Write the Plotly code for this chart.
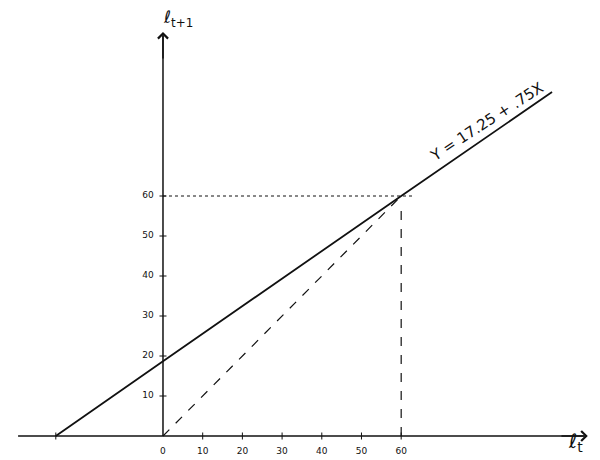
import plotly.graph_objects as go

# Data (axis units)
tick_vals = [0, 10, 20, 30, 40, 50, 60]
tick_labels = ["0", "10", "20", "30", "40", "50", "60"]
solid_x = [-27, 0, 60, 98]
solid_y = [0, 18.7, 60, 86]
diag_x = [0, 60]
diag_y = [0, 60]
eq_label = "Y = 17.25 + .75X"

fig = go.Figure()

ink = "#111111"
# main axes
fig.add_trace(go.Scatter(x=[-36.5, 106], y=[0, 0], mode="lines",
                         line=dict(color=ink, width=1.5), hoverinfo="skip"))
fig.add_trace(go.Scatter(x=[0, 0], y=[0, 100], mode="lines",
                         line=dict(color=ink, width=1.5), hoverinfo="skip"))
# solid line
fig.add_trace(go.Scatter(x=solid_x, y=solid_y, mode="lines",
                         line=dict(color=ink, width=1.8), hoverinfo="skip"))
# 45-degree dashed line
fig.add_trace(go.Scatter(x=diag_x, y=diag_y, mode="lines",
                         line=dict(color=ink, width=1.2, dash="dash"), hoverinfo="skip"))
# dotted guides at 60
fig.add_trace(go.Scatter(x=[0, 63], y=[60, 60], mode="lines",
                         line=dict(color=ink, width=1, dash="dot"), hoverinfo="skip"))
fig.add_trace(go.Scatter(x=[60, 60], y=[0, 57], mode="lines",
                         line=dict(color=ink, width=1.2, dash="dash"), hoverinfo="skip"))
# tick marks
fig.add_trace(go.Scatter(x=tick_vals[1:] + [-27], y=[0] * 7, mode="markers",
                         marker=dict(symbol="line-ns", size=5, line=dict(color=ink, width=1)),
                         hoverinfo="skip"))
fig.add_trace(go.Scatter(x=[0] * 6, y=tick_vals[1:], mode="markers",
                         marker=dict(symbol="line-ew", size=5, line=dict(color=ink, width=1)),
                         hoverinfo="skip"))
# tick labels
fig.add_trace(go.Scatter(x=tick_vals, y=[-4] * 7, mode="text", text=tick_labels,
                         textfont=dict(family="DejaVu Sans", size=9, color=ink),
                         hoverinfo="skip"))
fig.add_trace(go.Scatter(x=[-3.8] * 6, y=tick_vals[1:], mode="text", text=tick_labels[1:],
                         textfont=dict(family="DejaVu Sans", size=9, color=ink),
                         hoverinfo="skip"))

# arrowheads
fig.add_annotation(x=107, y=0, ax=100, ay=0, xref="x", yref="y", axref="x", ayref="y",
                   showarrow=True, arrowhead=4, arrowsize=1.3, arrowwidth=1.5,
                   arrowcolor=ink, text="")
fig.add_annotation(x=0, y=101, ax=0, ay=94, xref="x", yref="y", axref="x", ayref="y",
                   showarrow=True, arrowhead=4, arrowsize=1.3, arrowwidth=1.5,
                   arrowcolor=ink, text="")

# axis titles
fig.add_annotation(x=-0.5, y=104.5, xref="x", yref="y", showarrow=False,
                   text="ℓ<sub>t+1</sub>", font=dict(family="DejaVu Sans", size=17, color=ink),
                   xanchor="left")
fig.add_annotation(x=101.5, y=-1.5, xref="x", yref="y", showarrow=False,
                   text="ℓ<sub>t</sub>", font=dict(family="DejaVu Sans", size=20, color=ink),
                   xanchor="left")
# equation
fig.add_annotation(x=81.5, y=78.5, xref="x", yref="y", showarrow=False,
                   text=eq_label, textangle=-33,
                   font=dict(family="DejaVu Sans", size=15, color=ink))

fig.update_layout(
    width=592, height=452, autosize=False,
    margin=dict(l=0, r=0, t=0, b=0),
    paper_bgcolor="white", plot_bgcolor="white",
    showlegend=False,
    xaxis=dict(range=[-39.04, 110.08], visible=False, fixedrange=True),
    yaxis=dict(range=[-6, 107], visible=False, fixedrange=True),
)

fig.write_html("out.html")
